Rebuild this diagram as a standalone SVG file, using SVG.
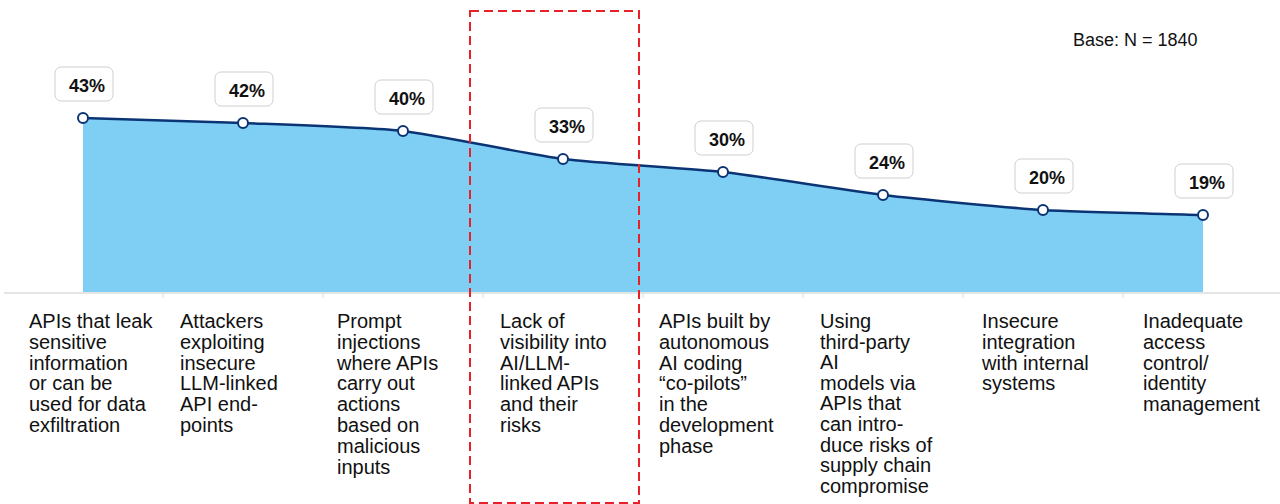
<svg xmlns="http://www.w3.org/2000/svg" width="1280" height="504" viewBox="0 0 1280 504">
  <style>
    .lbl { font-family: "Liberation Sans", Arial, sans-serif; font-size: 20px; fill: #111; }
    .pct { font-family: "Liberation Sans", Arial, sans-serif; font-size: 18px; font-weight: bold; fill: #111; text-anchor: middle; }
    .box { fill: #fff; stroke: #cfcfcf; stroke-width: 1; }
    .dot { fill: #fff; stroke: #0b3474; stroke-width: 2; }
    .tick { stroke: #dcdcdc; stroke-width: 1; }
  </style>
  <rect width="1280" height="504" fill="#fff"/>
  <text x="1073" y="46" font-family="Liberation Sans, Arial, sans-serif" font-size="18" fill="#111">Base: N = 1840</text>

  <g id="area">
    <path d="M83,118 C115,119 211,121.7 243,123 C275,124.3 371,127.4 403,131 C435,134.6 531,154.9 563,159 C595,163.1 691,168.4 723,172 C755,175.6 851,191.2 883,195 C915,198.8 1011,208 1043,210 C1075,212 1171,214 1203,215 L1203,292 L83,292 Z" fill="#7fcff4"/>
  </g>

  <g id="axis">
    <line x1="4" y1="293" x2="1280" y2="293" stroke="#dcdcdc" stroke-width="1.5"/>
    <line class="tick" x1="163" y1="293" x2="163" y2="298"/>
    <line class="tick" x1="323" y1="293" x2="323" y2="298"/>
    <line class="tick" x1="483" y1="293" x2="483" y2="298"/>
    <line class="tick" x1="643" y1="293" x2="643" y2="298"/>
    <line class="tick" x1="803" y1="293" x2="803" y2="298"/>
    <line class="tick" x1="963" y1="293" x2="963" y2="298"/>
    <line class="tick" x1="1123" y1="293" x2="1123" y2="298"/>
  </g>

  <g id="connectors">
    <path d="M83,118 C115,119 211,121.7 243,123 C275,124.3 371,127.4 403,131 C435,134.6 531,154.9 563,159 C595,163.1 691,168.4 723,172 C755,175.6 851,191.2 883,195 C915,198.8 1011,208 1043,210 C1075,212 1171,214 1203,215" fill="none" stroke="#0b3474" stroke-width="2.5"/>
  </g>

  <g id="highlight">
    <rect x="470" y="11" width="169" height="492" fill="none" stroke="#e8202a" stroke-width="2" stroke-dasharray="9,5"/>
  </g>

  <g id="node1">
    <rect class="box" x="55" y="67" width="58" height="34" rx="6"/>
    <text class="pct" x="87" y="92">43%</text>
    <circle class="dot" cx="83" cy="118" r="5"/>
    <text class="lbl" x="29" y="328"><tspan x="29">APIs that leak</tspan><tspan x="29" dy="20.8">sensitive</tspan><tspan x="29" dy="20.8">information</tspan><tspan x="29" dy="20.8">or can be</tspan><tspan x="29" dy="20.8">used for data</tspan><tspan x="29" dy="20.8">exfiltration</tspan></text>
  </g>
  <g id="node2">
    <rect class="box" x="215" y="72" width="58" height="34" rx="6"/>
    <text class="pct" x="247" y="97">42%</text>
    <circle class="dot" cx="243" cy="123" r="5"/>
    <text class="lbl" x="180" y="328"><tspan x="180">Attackers</tspan><tspan x="180" dy="20.8">exploiting</tspan><tspan x="180" dy="20.8">insecure</tspan><tspan x="180" dy="20.8">LLM-linked</tspan><tspan x="180" dy="20.8">API end-</tspan><tspan x="180" dy="20.8">points</tspan></text>
  </g>
  <g id="node3">
    <rect class="box" x="375" y="80" width="58" height="34" rx="6"/>
    <text class="pct" x="407" y="105">40%</text>
    <circle class="dot" cx="403" cy="131" r="5"/>
    <text class="lbl" x="337" y="328"><tspan x="337">Prompt</tspan><tspan x="337" dy="20.8">injections</tspan><tspan x="337" dy="20.8">where APIs</tspan><tspan x="337" dy="20.8">carry out</tspan><tspan x="337" dy="20.8">actions</tspan><tspan x="337" dy="20.8">based on</tspan><tspan x="337" dy="20.8">malicious</tspan><tspan x="337" dy="20.8">inputs</tspan></text>
  </g>
  <g id="node4">
    <rect class="box" x="535" y="108" width="58" height="34" rx="6"/>
    <text class="pct" x="567" y="133">33%</text>
    <circle class="dot" cx="563" cy="159" r="5"/>
    <text class="lbl" x="500" y="328"><tspan x="500">Lack of</tspan><tspan x="500" dy="20.8">visibility into</tspan><tspan x="500" dy="20.8">AI/LLM-</tspan><tspan x="500" dy="20.8">linked APIs</tspan><tspan x="500" dy="20.8">and their</tspan><tspan x="500" dy="20.8">risks</tspan></text>
  </g>
  <g id="node5">
    <rect class="box" x="695" y="121" width="58" height="34" rx="6"/>
    <text class="pct" x="727" y="146">30%</text>
    <circle class="dot" cx="723" cy="172" r="5"/>
    <text class="lbl" x="659" y="328"><tspan x="659">APIs built by</tspan><tspan x="659" dy="20.8">autonomous</tspan><tspan x="659" dy="20.8">AI coding</tspan><tspan x="659" dy="20.8">“co-pilots”</tspan><tspan x="659" dy="20.8">in the</tspan><tspan x="659" dy="20.8">development</tspan><tspan x="659" dy="20.8">phase</tspan></text>
  </g>
  <g id="node6">
    <rect class="box" x="855" y="144" width="58" height="34" rx="6"/>
    <text class="pct" x="887" y="169">24%</text>
    <circle class="dot" cx="883" cy="195" r="5"/>
    <text class="lbl" x="820" y="328"><tspan x="820">Using</tspan><tspan x="820" dy="20.6">third-party</tspan><tspan x="820" dy="20.6">AI</tspan><tspan x="820" dy="20.6">models via</tspan><tspan x="820" dy="20.6">APIs that</tspan><tspan x="820" dy="20.6">can intro-</tspan><tspan x="820" dy="20.6">duce risks of</tspan><tspan x="820" dy="20.6">supply chain</tspan><tspan x="820" dy="20.6">compromise</tspan></text>
  </g>
  <g id="node7">
    <rect class="box" x="1015" y="159" width="58" height="34" rx="6"/>
    <text class="pct" x="1047" y="184">20%</text>
    <circle class="dot" cx="1043" cy="210" r="5"/>
    <text class="lbl" x="982" y="328"><tspan x="982">Insecure</tspan><tspan x="982" dy="20.8">integration</tspan><tspan x="982" dy="20.8">with internal</tspan><tspan x="982" dy="20.8">systems</tspan></text>
  </g>
  <g id="node8">
    <rect class="box" x="1175" y="164" width="58" height="34" rx="6"/>
    <text class="pct" x="1207" y="189">19%</text>
    <circle class="dot" cx="1203" cy="215" r="5"/>
    <text class="lbl" x="1143" y="328"><tspan x="1143">Inadequate</tspan><tspan x="1143" dy="20.8">access</tspan><tspan x="1143" dy="20.8">control/</tspan><tspan x="1143" dy="20.8">identity</tspan><tspan x="1143" dy="20.8">management</tspan></text>
  </g>
</svg>
